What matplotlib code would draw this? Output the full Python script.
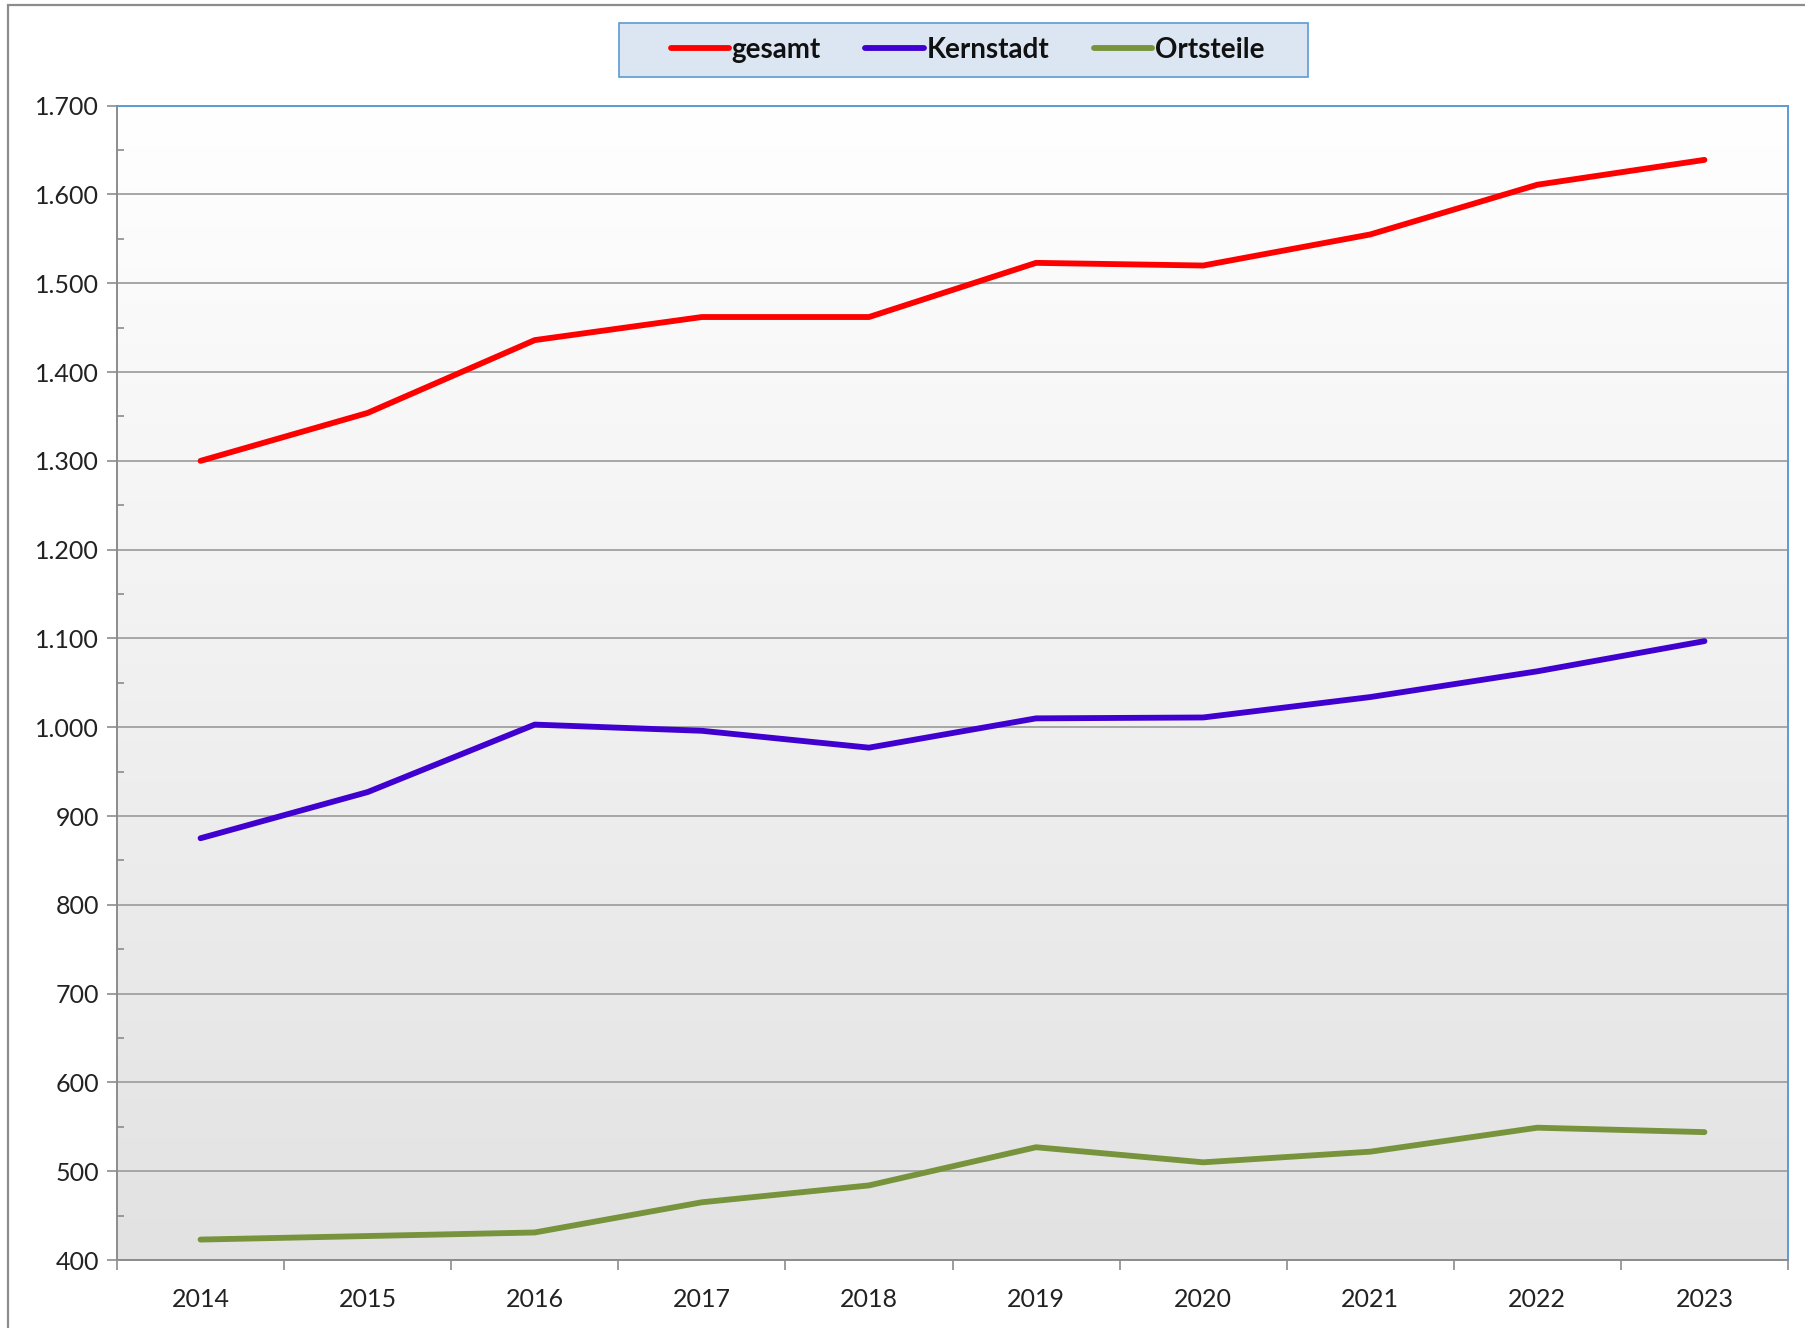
import matplotlib
matplotlib.use("Agg")
import matplotlib.pyplot as plt
import numpy as np
from matplotlib.patches import Rectangle
from matplotlib.ticker import MultipleLocator, FixedLocator, FuncFormatter
from matplotlib.colors import LinearSegmentedColormap

years = ["2014", "2015", "2016", "2017", "2018", "2019", "2020", "2021", "2022", "2023"]
gesamt = [1300, 1354, 1436, 1462, 1462, 1523, 1520, 1555, 1611, 1639]
kernstadt = [875, 927, 1003, 996, 977, 1010, 1011, 1034, 1063, 1097]
ortsteile = [423, 427, 431, 465, 484, 527, 510, 522, 549, 544]

series_names = ["gesamt", "Kernstadt", "Ortsteile"]
series_colors = ["#ff0000", "#4000d0", "#77933c"]

plt.rcParams['font.family'] = ['Lato', 'DejaVu Sans']

W, H = 1805, 1328
fig = plt.figure(figsize=(W / 100, H / 100), dpi=100)
fig.patch.set_facecolor("white")

# outer chart frame (cut off at right/bottom)
fig.add_artist(Rectangle((8 / W, -0.05), 1.2, 1 - 5 / H + 0.05, transform=fig.transFigure,
                         fill=False, edgecolor="#8c8c8c", linewidth=1.6, zorder=0))

left, right, top, bottom = 117, 1788, 105.7, 1260
ax = fig.add_axes([left / W, 1 - bottom / H, (right - left) / W, (bottom - top) / H])

x = np.arange(len(years))

# gradient background (white at top, light grey at bottom)
grad = np.linspace(0, 1, 256).reshape(-1, 1)
cmap = LinearSegmentedColormap.from_list("bg", ["#ffffff", "#e2e2e2"])
ax.imshow(grad, aspect="auto", cmap=cmap, extent=(-0.5, len(years) - 0.5, 400, 1700),
          origin="upper", zorder=0)
ax.set_xlim(-0.5, len(years) - 0.5)
ax.set_ylim(400, 1700)

for vals, name, col in zip([gesamt, kernstadt, ortsteile], series_names, series_colors):
    ax.plot(x, vals, color=col, linewidth=4.2, solid_capstyle="round",
            solid_joinstyle="round", label=name, zorder=3)

# grid
ax.yaxis.set_major_locator(MultipleLocator(100))
ax.yaxis.set_minor_locator(MultipleLocator(50))
ax.grid(axis="y", which="major", color="#a6a6a6", linewidth=1.4, zorder=1)
ax.set_axisbelow(True)

ax.yaxis.set_major_formatter(FuncFormatter(lambda v, p: f"{int(v):,}".replace(",", ".")))
ax.tick_params(axis="y", which="major", direction="out", length=7, width=1.2, color="#8c8c8c",
               labelsize=18, pad=6, labelcolor="#222222")
ax.tick_params(axis="y", which="minor", direction="in", length=5, width=1.2, color="#8c8c8c")

# x: ticks at boundaries, labels at centres
ax.xaxis.set_major_locator(FixedLocator(np.arange(-0.5, len(years), 1.0)))
ax.xaxis.set_major_formatter(FuncFormatter(lambda v, p: ""))
ax.set_xticks(x, minor=True)
ax.set_xticklabels(years, minor=True)
ax.tick_params(axis="x", which="major", direction="out", length=7, width=1.2, color="#8c8c8c")
ax.tick_params(axis="x", which="minor", length=0, labelsize=18, pad=20, labelcolor="#222222")

for s in ["left", "bottom"]:
    ax.spines[s].set_color("#8c8c8c")
    ax.spines[s].set_linewidth(1.4)
for s in ["top", "right"]:
    ax.spines[s].set_color("#5b9bd5")
    ax.spines[s].set_linewidth(1.4)

# legend box
bx0, bx1, by0, by1 = 619, 1308, 23, 77
fig.add_artist(Rectangle((bx0 / W, 1 - by1 / H), (bx1 - bx0) / W, (by1 - by0) / H,
                         transform=fig.transFigure, facecolor="#dce6f2",
                         edgecolor="#5b9bd5", linewidth=1.2, zorder=1))
leg = fig.legend(loc="center", bbox_to_anchor=((bx0 + bx1) / 2 / W + 4 / W, 1 - (by0 + by1) / 2 / H),
                 ncol=3, frameon=False, prop={"weight": "bold", "size": 20},
                 handlelength=2.1, handletextpad=0.1, columnspacing=1.6,
                 borderpad=0, borderaxespad=0)
leg.set_zorder(2)
for t in leg.get_texts():
    t.set_color("#111111")

fig.savefig("out.png", dpi=100)
